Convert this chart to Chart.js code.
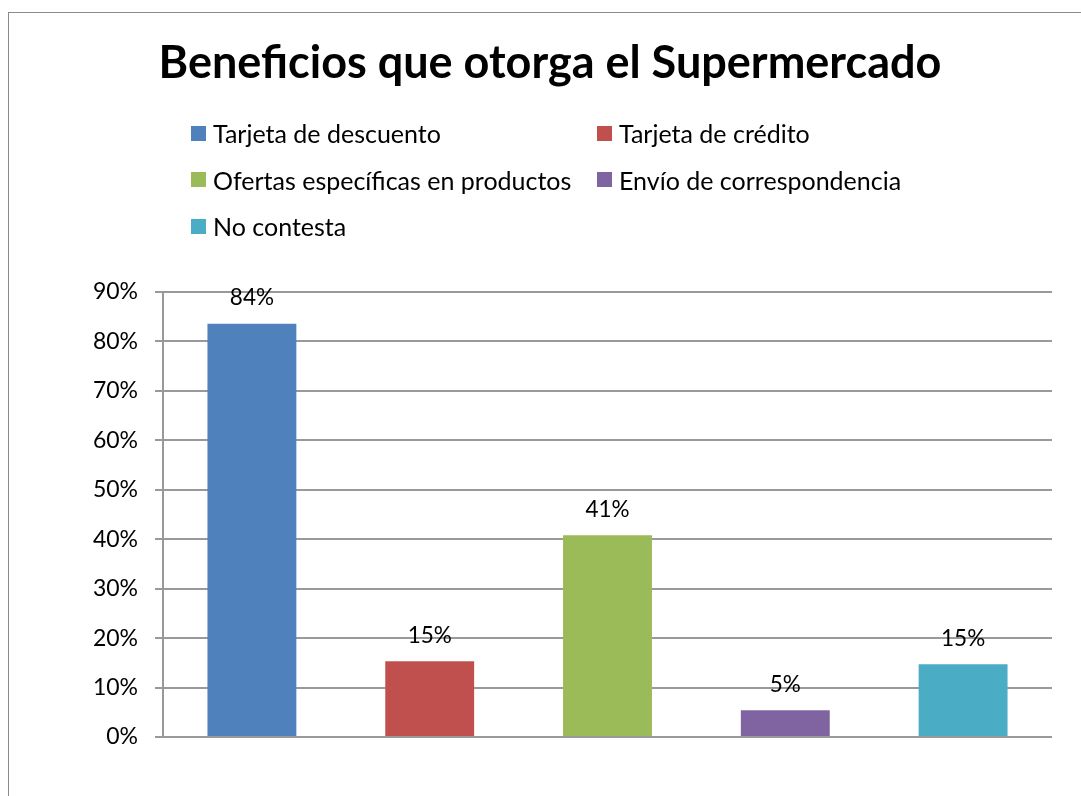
<!DOCTYPE html>
<html>
<head>
<meta charset="utf-8">
<script src="https://cdn.jsdelivr.net/npm/chart.js@4/dist/chart.umd.min.js"></script>
<style>
  html, body { margin: 0; padding: 0; background: #fff; overflow: hidden; }
  #frame {
    position: absolute; left: 8px; top: 12px; width: 1200px; height: 900px;
    border-left: 1.5px solid #8a8a8a; border-top: 1.5px solid #8a8a8a;
  }
  #chart { position: absolute; left: 0; top: 0; }
  #legend {
    position: absolute; left: 191px; top: 110px;
    display: grid; grid-template-columns: 406px auto; grid-auto-rows: 46.5px;
    font-family: Lato, sans-serif; font-size: 25px; color: #000;
  }
  #legend .item { display: flex; align-items: center; white-space: nowrap; }
  #legend .box { width: 15px; height: 15px; margin-right: 7px; flex: none; }
</style>
</head>
<body>
<div id="frame"></div>
<canvas id="chart" width="1081" height="796"></canvas>
<div id="legend"></div>
<script>
// Data
const categories = ['Tarjeta de descuento', 'Tarjeta de crédito', 'Ofertas específicas en productos',
                    'Envío de correspondencia', 'No contesta'];
const percentages = [83.6, 15.3, 40.8, 5.4, 14.7];
const colors = ['#4F81BD', '#C0504D', '#9BBB59', '#8064A2', '#4BACC6'];
const yTicks = [0, 10, 20, 30, 40, 50, 60, 70, 80, 90];

const gridColor = '#999999';

// one dataset per category so each bar gets its own legend entry
const datasets = categories.map((name, i) => ({
    label: name,
    data: categories.map((c, j) => (j === i ? percentages[i] : null)),
    backgroundColor: colors[i],
    skipNull: true,
    categoryPercentage: 0.5,
    barPercentage: 1.0
}));

// value labels above the bars
const valueLabels = {
    id: 'valueLabels',
    afterDatasetsDraw(chart) {
        const ctx = chart.ctx;
        ctx.save();
        ctx.font = '22.5px Lato, sans-serif';
        ctx.fillStyle = '#000';
        ctx.textAlign = 'center';
        ctx.textBaseline = 'middle';
        chart.data.datasets.forEach((ds, i) => {
            const meta = chart.getDatasetMeta(i);
            meta.data.forEach((bar, j) => {
                const v = ds.data[j];
                if (v === null) return;
                ctx.fillText(Math.round(v) + '%', bar.x, bar.y - 26);
            });
        });
        ctx.restore();
    }
};

const ctx = document.getElementById('chart').getContext('2d');
const chart = new Chart(ctx, {
    type: 'bar',
    data: { labels: categories, datasets: datasets },
    options: {
        responsive: false,
        animation: false,
        devicePixelRatio: 1,
        layout: { padding: { left: 48, right: 29, top: 0, bottom: 59 } },
        plugins: {
            legend: { display: false },
            tooltip: { enabled: false },
            title: {
                display: true,
                text: 'Beneficios que otorga el Supermercado',
                color: '#000',
                font: { family: 'Lato, sans-serif', size: 45, weight: 'bold' },
                padding: { top: 36, bottom: 202 }
            }
        },
        scales: {
            x: { display: false },
            y: {
                min: 0,
                max: 90,
                afterBuildTicks: (scale) => { scale.ticks = yTicks.map(v => ({ value: v })); },
                afterFit: (scale) => { scale.width = 163 - 48; },
                ticks: {
                    color: '#000',
                    padding: 17,
                    font: { family: 'Lato, sans-serif', size: 23 },
                    callback: (v) => v + '%'
                },
                grid: { color: gridColor, lineWidth: 2, tickLength: 8 },
                border: { display: true, color: gridColor, width: 2 }
            }
        }
    },
    plugins: [valueLabels]
});

// html legend in two columns, built from the chart's datasets
const legendEl = document.getElementById('legend');
chart.data.datasets.forEach(ds => {
    const item = document.createElement('div');
    item.className = 'item';
    const box = document.createElement('span');
    box.className = 'box';
    box.style.background = ds.backgroundColor;
    const text = document.createElement('span');
    text.textContent = ds.label;
    item.appendChild(box);
    item.appendChild(text);
    legendEl.appendChild(item);
});
</script>
</body>
</html>
